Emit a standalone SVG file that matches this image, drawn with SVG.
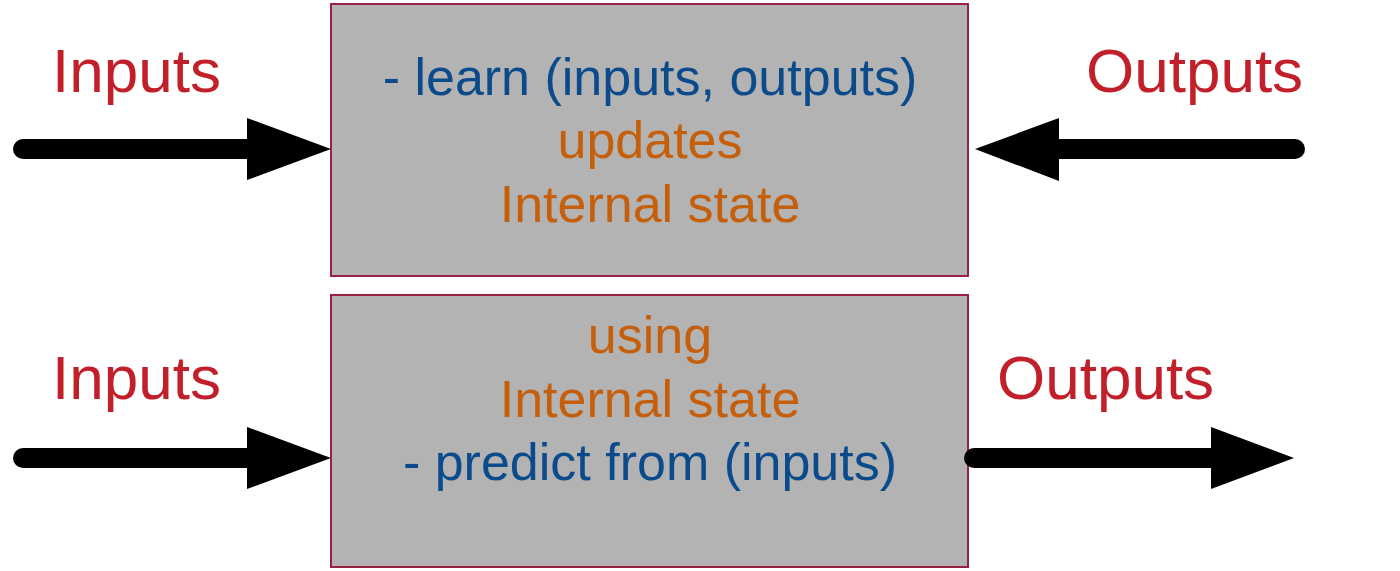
<svg xmlns="http://www.w3.org/2000/svg" width="1400" height="571" viewBox="0 0 1400 571">
<style>
.box{fill:#b3b3b3;stroke:#9b2142;stroke-width:2}
.lbl{font-family:"Liberation Sans",Arial,sans-serif;font-size:62px;fill:#c1202b}
.t{font-family:"Liberation Sans",Arial,sans-serif;font-size:52px;text-anchor:middle}
.blue{fill:#0b4a8b}
.orange{fill:#c65f0b}
.shaft{stroke:#000;stroke-width:20;stroke-linecap:round;fill:none}
.head{fill:#000}
</style>
<rect width="1400" height="571" fill="#fff"/>
<g id="learn-box">
<rect class="box" x="331" y="4" width="637" height="272"/>
<text class="t blue" x="650" y="95">- learn (inputs, outputs)</text>
<text class="t orange" x="650" y="158">updates</text>
<text class="t orange" x="650" y="222">Internal state</text>
</g>
<g id="predict-box">
<rect class="box" x="331" y="295" width="637" height="272"/>
<text class="t orange" x="650" y="353">using</text>
<text class="t orange" x="650" y="417">Internal state</text>
<text class="t blue" x="650" y="480">- predict from (inputs)</text>
</g>
<g id="labels">
<text class="lbl" x="52" y="92">Inputs</text>
<text class="lbl" x="1086" y="92">Outputs</text>
<text class="lbl" x="52" y="399">Inputs</text>
<text class="lbl" x="997" y="399">Outputs</text>
</g>
<g id="connectors">
<line class="shaft" x1="23" y1="149" x2="250" y2="149"/>
<polygon class="head" points="247,118 331,149 247,180"/>
<line class="shaft" x1="1056" y1="149" x2="1295" y2="149"/>
<polygon class="head" points="1059,118 975,149 1059,181"/>
<line class="shaft" x1="23" y1="458" x2="250" y2="458"/>
<polygon class="head" points="247,427 331,458 247,489"/>
<line class="shaft" x1="974" y1="458" x2="1214" y2="458"/>
<polygon class="head" points="1211,427 1294,458 1211,489"/>
</g>
</svg>
